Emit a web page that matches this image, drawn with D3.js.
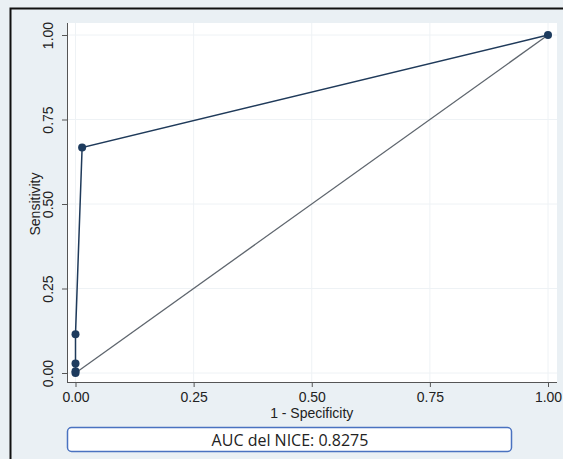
<!DOCTYPE html>
<html>
<head>
<meta charset="utf-8">
<script src="https://cdn.jsdelivr.net/npm/d3@7"></script>
<style>
  html, body { margin: 0; padding: 0; background: #eaf0f4; }
  svg { display: block; }
</style>
</head>
<body>
<svg id="chart" width="563" height="459"></svg>
<script>
// ROC curve points (1 - specificity, sensitivity)
const fpr = [0, 0, 0, 0, 0.014, 1];
const tpr = [0, 0.005, 0.028, 0.115, 0.667, 1];
const tickValues = [0, 0.25, 0.5, 0.75, 1];
const xTitle = "1 - Specificity";
const yTitle = "Sensitivity";
const aucLabel = "AUC del NICE: 0.8275";

const svg = d3.select("#chart");
const W = 563, H = 459;

// figure background and frame
svg.append("rect").attr("x", 0).attr("y", 0).attr("width", W).attr("height", H).attr("fill", "#eaf0f4");
svg.append("path").attr("d", `M10.5,${H} L10.5,8.5 L${W},8.5`)
  .attr("fill", "none").attr("stroke", "#111").attr("stroke-width", 2);

// plot region
const plot = { left: 67, right: 557, top: 23, bottom: 382 };
svg.append("rect").attr("x", plot.left).attr("y", plot.top)
  .attr("width", plot.right - plot.left).attr("height", plot.bottom - plot.top)
  .attr("fill", "#ffffff");

const x = d3.scaleLinear().domain([0, 1]).range([75.5, 548]);
const y = d3.scaleLinear().domain([0, 1]).range([373, 35]);

// faint grid
const grid = svg.append("g").attr("stroke", "#eef2f5").attr("stroke-width", 1);
tickValues.forEach(v => {
  grid.append("line").attr("x1", plot.left).attr("x2", plot.right)
    .attr("y1", y(v)).attr("y2", y(v));
  grid.append("line").attr("y1", plot.top).attr("y2", plot.bottom)
    .attr("x1", x(v)).attr("x2", x(v));
});

// axes
const fmt = d3.format(".2f");
const xAxis = svg.append("g").attr("transform", `translate(0,${plot.bottom})`)
  .call(d3.axisBottom(x).tickValues(tickValues).tickFormat(fmt).tickSize(5).tickSizeOuter(0));
const yAxis = svg.append("g").attr("transform", `translate(${plot.left},0)`)
  .call(d3.axisLeft(y).tickValues(tickValues).tickFormat(fmt).tickSize(5).tickSizeOuter(0));

[xAxis, yAxis].forEach(g => {
  g.select(".domain").attr("stroke", "#555");
  g.selectAll(".tick line").attr("stroke", "#555");
  g.selectAll("text").attr("fill", "#222")
    .style("font-family", "Liberation Sans, Arial, sans-serif").style("font-size", "14px");
});
// extend axis lines to span the plot region
xAxis.select(".domain").attr("d", `M${plot.left},0.5H${plot.right}`);
yAxis.select(".domain").attr("d", `M0.5,${plot.bottom}V${plot.top}`);

xAxis.selectAll("text").attr("dy", "0.85em");
// rotated y tick labels
yAxis.selectAll(".tick text")
  .attr("x", null).attr("dy", null)
  .attr("transform", "translate(-14,0) rotate(-90)")
  .attr("text-anchor", "middle");

// axis titles
svg.append("text").attr("x", x(0.5)).attr("y", 418)
  .attr("text-anchor", "middle").attr("fill", "#222")
  .style("font-family", "Liberation Sans, Arial, sans-serif").style("font-size", "14px")
  .text(xTitle);
svg.append("text")
  .attr("transform", `translate(40,${y(0.5)}) rotate(-90)`)
  .attr("text-anchor", "middle").attr("fill", "#222")
  .style("font-family", "Liberation Sans, Arial, sans-serif").style("font-size", "14px")
  .text(yTitle);

// diagonal reference line
svg.append("line").attr("x1", x(0)).attr("y1", y(0)).attr("x2", x(1)).attr("y2", y(1))
  .attr("stroke", "#5f666e").attr("stroke-width", 1.3);

// ROC curve
const pts = fpr.map((f, i) => [f, tpr[i]]);
svg.append("path").datum(pts)
  .attr("d", d3.line().x(d => x(d[0])).y(d => y(d[1])))
  .attr("fill", "none").attr("stroke", "#1f3a5a").attr("stroke-width", 1.5);
svg.append("g").selectAll("circle").data(pts).join("circle")
  .attr("cx", d => x(d[0])).attr("cy", d => y(d[1])).attr("r", 4)
  .attr("fill", "#1d3b5e");

// AUC box
svg.append("rect").attr("x", 67.5).attr("y", 427.5).attr("width", 444).attr("height", 24)
  .attr("rx", 4).attr("fill", "#ffffff").attr("stroke", "#4a72c0").attr("stroke-width", 1.5);
svg.append("text").attr("x", 290).attr("y", 445.5)
  .attr("text-anchor", "middle").attr("fill", "#222")
  .style("font-family", "Open Sans, Noto Sans, sans-serif").style("font-size", "16px")
  .text(aucLabel);
</script>
</body>
</html>
